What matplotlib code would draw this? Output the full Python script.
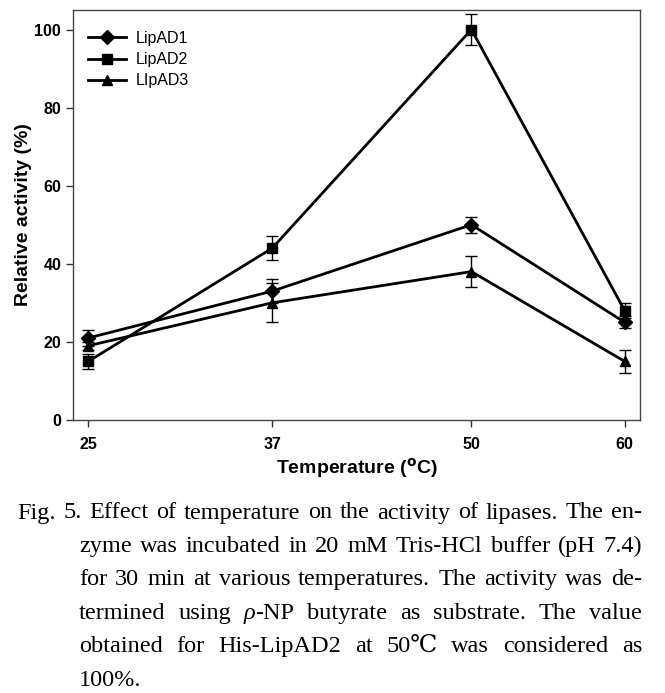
import matplotlib
matplotlib.use("Agg")
import matplotlib.pyplot as plt

temps = [25, 37, 50, 60]
lipad1 = [21, 33, 50, 25]
lipad1_err = [2, 3, 2, 1.5]
lipad2 = [15, 44, 100, 28]
lipad2_err = [2, 3, 4, 2]
lipad3 = [19, 30, 38, 15]
lipad3_err = [1, 5, 4, 3]
names = ["LipAD1", "LipAD2", "LIpAD3"]
yticks = [0, 20, 40, 60, 80, 100]

caption = [
    "Fig. 5. Effect of temperature on the activity of lipases. The en-",
    "zyme was incubated in 20 mM Tris-HCl buffer (pH 7.4)",
    "for 30 min at various temperatures. The activity was de-",
    "termined using \u03c1-NP butyrate as substrate. The value",
    "obtained for His-LipAD2 at 50\u2103 was considered as",
    "100%.",
]

plt.rcParams["font.family"] = ["Liberation Sans", "DejaVu Sans"]

fig = plt.figure(figsize=(6.65, 6.93), dpi=100)
ax = fig.add_axes([0.1098, 0.394, 0.8526, 0.5916])

series = [(lipad1, lipad1_err, "D"), (lipad2, lipad2_err, "s"), (lipad3, lipad3_err, "^")]
handles = []
for (vals, errs, mk), name in zip(series, names):
    c = ax.errorbar(temps, vals, yerr=errs, color="black", marker=mk, markersize=7,
                    linewidth=2, elinewidth=1, capsize=4.5, capthick=1, label=name)
    handles.append(c.lines[0])

ax.set_xlim(24, 61)
ax.set_ylim(0, 105)
ax.set_xticks(temps)
ax.set_yticks(yticks)
ax.tick_params(direction="out", length=5, width=1, labelsize=11.5, color="#333333")
for lab in ax.get_xticklabels() + ax.get_yticklabels():
    lab.set_fontweight("bold")
ax.tick_params(axis="x", pad=7)
for sp in ax.spines.values():
    sp.set_color("#444444")
    sp.set_linewidth(1)

ax.set_xlabel(r"Temperature ($^\mathbf{o}$C)", fontsize=14, fontweight="bold", labelpad=3)
ax.set_ylabel("Relative activity (%)", fontsize=14, fontweight="bold", labelpad=2)

leg = ax.legend(handles, names, loc="upper left", frameon=False, fontsize=11.5,
                handlelength=2.4, bbox_to_anchor=(0.015, 0.965),
                borderaxespad=0.0, labelspacing=0.4, handletextpad=0.6)

# caption, justified like the journal text
cap_font = ["Liberation Serif", "DejaVu Serif"]
cap_size = 17.5
renderer = fig.canvas.get_renderer()
left0, left1, right = 17, 79, 642
top = 513
step = 33.4
H = fig.get_figheight() * fig.dpi
W = fig.get_figwidth() * fig.dpi


def word_width(seg_list):
    w = 0
    for txt, style in seg_list:
        t = fig.text(0, 0, txt, fontsize=cap_size, family=cap_font, style=style)
        w += t.get_window_extent(renderer).width
        t.remove()
    return w


def split_word(word):
    if "\u03c1" in word:
        i = word.index("\u03c1")
        return [(word[:i], "normal"), ("\u03c1", "italic"), (word[i + 1:], "normal")]
    return [(word, "normal")]


for n, line in enumerate(caption):
    y = H - (top + n * step)
    x0 = left0 if n == 0 else left1
    words = [split_word(w) for w in line.split(" ")]
    widths = [word_width(w) for w in words]
    last = n == len(caption) - 1
    if last or len(words) == 1:
        gap = word_width([(" ", "normal")])
    else:
        gap = (right - x0 - sum(widths)) / (len(words) - 1)
    x = x0
    for segs, w in zip(words, widths):
        xx = x
        for txt, style in segs:
            if not txt:
                continue
            t = fig.text(xx / W, y / H, txt, fontsize=cap_size, family=cap_font,
                         style=style, va="center", ha="left")
            xx += t.get_window_extent(renderer).width
        x += w + gap

fig.savefig("out.png", dpi=100)
